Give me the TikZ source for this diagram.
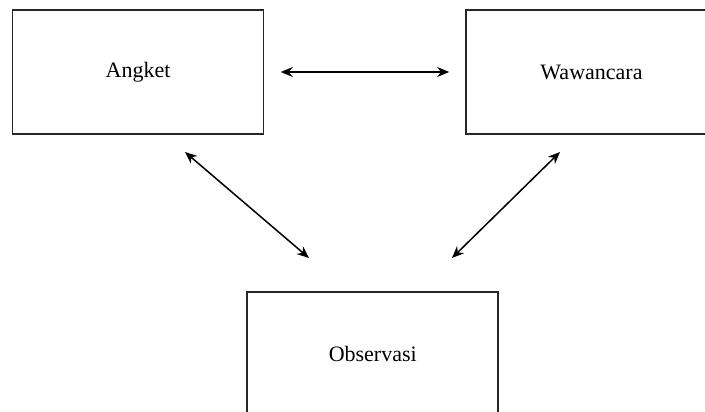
\documentclass[tikz,border=0pt]{standalone}
\usepackage{fontspec}
\setmainfont{Liberation Serif}
\usetikzlibrary{arrows.meta}

\begin{document}
\begin{tikzpicture}[x=1pt,y=-1pt,
        box/.style={draw=black!85, line width=1.6pt, rectangle, minimum width=251pt,
                minimum height=124.5pt, inner sep=0pt, font=\fontsize{22}{26}\selectfont},
        link/.style={{Stealth[length=12pt,width=10pt]}-{Stealth[length=12pt,width=10pt]}, line width=1.5pt}]
        \useasboundingbox (0,0) rectangle (705,412);
        \clip (0,0) rectangle (705,412);

        \node (A) [box] at (138,72) {Angket};
        \node (W) [box] at (591.5,72) {Wawancara};
        \node (O) [box] at (372.75,354) {Observasi};

        \coordinate (a1) at (185,152);
        \coordinate (o1) at (309,258);
        \coordinate (w1) at (560,152);
        \coordinate (o2) at (452,258);

        \draw [link, shorten <=16.5pt, shorten >=16pt] (A) -- (W);
        \draw [link] (a1) -- (o1);
        \draw [link] (w1) -- (o2);
    \end{tikzpicture}
\end{document}
